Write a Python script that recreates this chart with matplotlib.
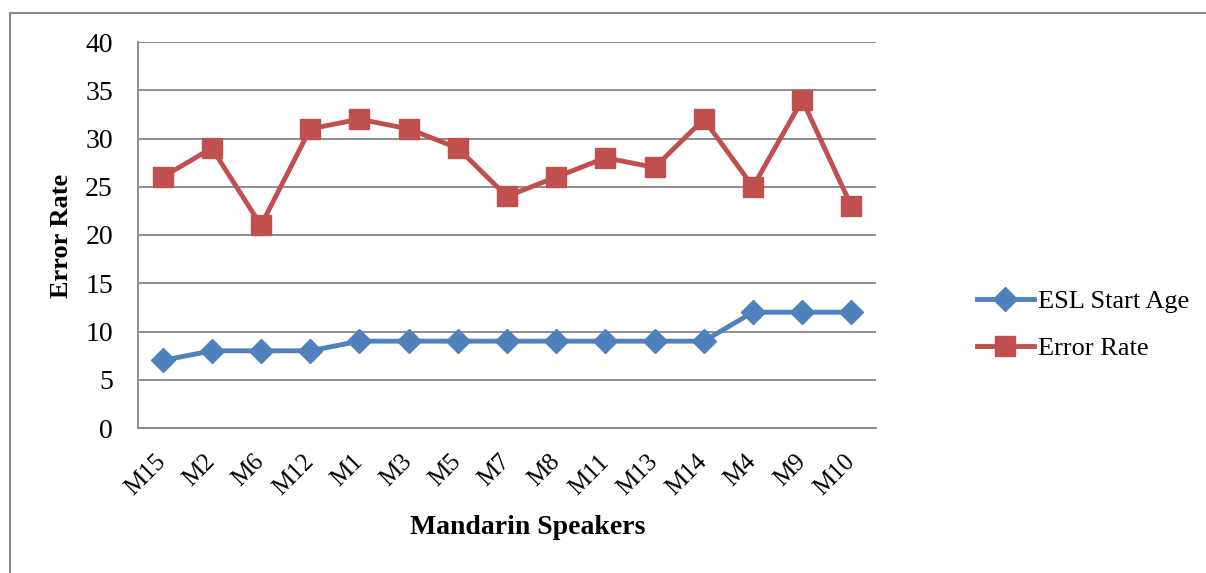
import matplotlib.pyplot as plt
from matplotlib.patches import Rectangle

# data
speakers = ['M15', 'M2', 'M6', 'M12', 'M1', 'M3', 'M5', 'M7', 'M8',
            'M11', 'M13', 'M14', 'M4', 'M9', 'M10']
esl_start_age = [7, 8, 8, 8, 9, 9, 9, 9, 9, 9, 9, 9, 12, 12, 12]
error_rate = [26, 29, 21, 31, 32, 31, 29, 24, 26, 28, 27, 32, 25, 34, 23]
y_ticks = [0, 5, 10, 15, 20, 25, 30, 35, 40]

plt.rcParams['font.family'] = ['Liberation Serif', 'DejaVu Serif']

fig = plt.figure(figsize=(12.06, 5.73), dpi=100)

# outer chart border (only left and top edges fall inside the picture)
fig.patches.append(Rectangle((10 / 1206, -0.1), 1.2, 1 - 13 / 573 + 0.1,
                             transform=fig.transFigure, fill=False,
                             edgecolor='#868686', linewidth=1.5))

ax = fig.add_axes([138 / 1206, 1 - 428 / 573, 738 / 1206, 386 / 573])

x = range(len(speakers))
ax.plot(x, esl_start_age, color='#4F81BD', linewidth=3.5, marker='D',
        markersize=12, label='ESL Start Age')
ax.plot(x, error_rate, color='#C0504D', linewidth=3.5, marker='s',
        markersize=14, label='Error Rate')

ax.set_xlim(-0.5, len(speakers) - 0.5)
ax.set_ylim(0, 40)
ax.set_yticks(y_ticks)
ax.set_xticks(list(x))
ax.set_xticklabels(speakers, rotation=45, ha='right', va='center',
                   rotation_mode='anchor')
ax.tick_params(axis='x', length=0, labelsize=18, pad=22)
ax.tick_params(axis='y', length=0, labelsize=20, pad=18)
ax.grid(axis='y', color='#868686', linewidth=1.3)
ax.set_axisbelow(True)
for side in ['top', 'right']:
    ax.spines[side].set_visible(False)
for side in ['left', 'bottom']:
    ax.spines[side].set_color('#868686')
    ax.spines[side].set_linewidth(1.3)

fig.text(528 / 1206, 1 - 527 / 573, 'Mandarin Speakers', fontsize=20,
         fontweight='bold', ha='center', va='center')
fig.text(62 / 1206, 1 - 236 / 573, 'Error Rate', fontsize=19,
         fontweight='bold', ha='center', va='center', rotation=90)

ax.legend(loc='center left', bbox_to_anchor=(977 / 1206, 1 - 325 / 573),
          bbox_transform=fig.transFigure, frameon=False, fontsize=19,
          borderpad=0, borderaxespad=0,
          handlelength=2.15, handletextpad=0.15, labelspacing=0.9)

fig.savefig('out.png', dpi=100)
